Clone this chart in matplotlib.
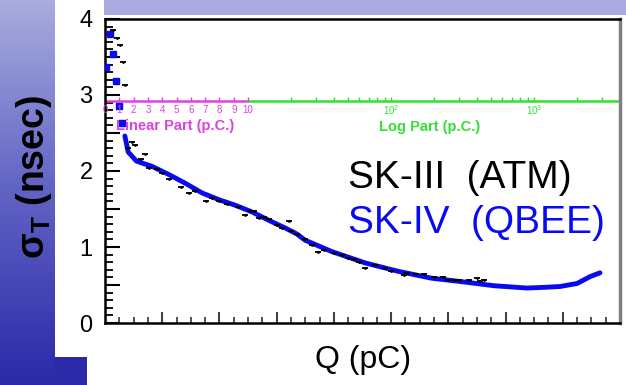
import numpy as np
import matplotlib
matplotlib.use("Agg")
import matplotlib.pyplot as plt
from matplotlib.ticker import MultipleLocator, FuncFormatter, NullFormatter
from matplotlib.patches import Rectangle

plt.rcParams['font.family'] = ['Liberation Sans', 'DejaVu Sans']
plt.rcParams['mathtext.fontset'] = 'custom'
plt.rcParams['mathtext.rm'] = 'Liberation Sans:bold'
plt.rcParams['mathtext.it'] = 'Liberation Sans:bold'
plt.rcParams['mathtext.bf'] = 'Liberation Sans:bold'

# SK-IV (QBEE) - low charge points (pC, nsec)
blue_low_q = [0.35, 0.55, 0.1, 0.75, 0.97, 1.16]
blue_low_s = [3.80, 3.54, 3.37, 3.19, 2.85, 2.63]

# SK-IV (QBEE) - curve
blue_q = [1.39, 1.62, 2.2, 3.3, 4.5, 5.6, 6.8, 8.0, 9.1, 10.7, 14.0, 18.2, 22.0,
          25.0, 38.5, 66, 112, 191, 324, 525, 891, 1200, 1514, 1995, 2455, 2884]
blue_s = [2.46, 2.25, 2.13, 2.06, 1.95, 1.84, 1.71, 1.62, 1.55, 1.46, 1.35, 1.25, 1.17,
          1.09, 0.94, 0.79, 0.68, 0.59, 0.54, 0.49, 0.46, 0.47, 0.48, 0.52, 0.61, 0.66]

# SK-III (ATM)
black_q = [0.55, 0.81, 1.04, 1.25, 1.39, 1.6, 1.9, 2.1, 2.5, 2.8, 3.1, 3.6, 4.0, 4.5, 5.3,
           5.9, 6.3, 7.06, 7.5, 8.0, 8.5, 9.3, 9.8, 10.3, 11, 12.0, 13, 14, 16, 17.4, 19.3,
           20, 22, 25, 28, 30.9, 34, 40, 45, 50, 55, 60, 66, 77.6, 90, 100, 123, 130, 150,
           170, 200, 230, 251, 280, 300, 350, 398, 420, 447]
black_s = [3.86, 3.75, 3.66, 3.44, 3.13, 2.30, 2.38, 2.34, 2.16, 2.23, 2.04, 2.02, 1.98,
           1.90, 1.79, 1.71, 1.74, 1.60, 1.64, 1.60, 1.57, 1.52, 1.42, 1.47, 1.47, 1.38,
           1.39, 1.37, 1.29, 1.25, 1.34, 1.21, 1.17, 1.10, 1.02, 0.94, 0.96, 0.92, 0.90,
           0.86, 0.84, 0.80, 0.72, 0.76, 0.72, 0.69, 0.63, 0.66, 0.64, 0.65, 0.61, 0.60,
           0.57, 0.56, 0.57, 0.56, 0.59, 0.55, 0.57]

# charge scale drawn inside the frame
scale_y = 2.92
lin_ticks = [1, 2, 3, 4, 5, 6, 7, 8, 9, 10]
lin_labels = ['0', '1', '2', '3', '4', '5', '6', '7', '8', '9', '10']
log_ticks = [20, 30, 40, 50, 60, 70, 80, 90, 100, 200, 300, 400, 500, 600, 700, 800, 900,
             1000, 2000, 3000]
log_labels = {100: r'$\mathregular{10^{2}}$', 1000: r'$\mathregular{10^{3}}$'}
q_max = 3980


def fwd(q):
    q = np.asarray(q, dtype=float)
    return np.where(q <= 10, q, 10 + 10 * np.log10(np.maximum(q, 1e-9) / 10))


def inv(u):
    u = np.asarray(u, dtype=float)
    return np.where(u <= 10, u, 10 * 10 ** ((u - 10) / 10))


W, H = 626, 385
fig = plt.figure(figsize=(W / 100, H / 100), dpi=100)
fig.patch.set_facecolor('white')

# slide background
bg = fig.add_axes([0, 0, 1, 1], zorder=-5)
bg.set_xlim(0, W)
bg.set_ylim(H, 0)
bg.axis('off')
grad = np.linspace(0, 1, 200)[:, None]
top_c = np.array([168, 172, 222]) / 255
mid_c = np.array([96, 98, 196]) / 255
bot_c = np.array([42, 42, 168]) / 255
g = grad[:, :, None]
img = np.where(g < 0.5, top_c * (1 - 2 * g) + mid_c * 2 * g,
               mid_c * (2 - 2 * g) + bot_c * (2 * g - 1))
bg.imshow(img, extent=[0, 55, H, 0], aspect='auto')
bg.add_patch(Rectangle((55, 357), 32, 28, color=bot_c, lw=0))
bg.add_patch(Rectangle((104, 0), W - 104, 15, color='#aaaae0', lw=0))

ax = fig.add_axes([105 / W, 62 / H, 515 / W, 304 / H])
ax.set_xscale('function', functions=(fwd, inv))
ax.set_xlim(0, q_max)
ax.set_ylim(0, 4)

ax.plot(blue_q, blue_s, color='#0a0af0', lw=3.5, solid_capstyle='round', zorder=3)
ax.plot(blue_low_q, blue_low_s, ls='none', marker='s', ms=4, color='#0a0af0', zorder=3)
ax.plot(black_q, black_s, ls='none', marker='_', ms=5, mew=1.3, color='black', zorder=4)
ax.plot(black_q, black_s, ls='none', marker='.', ms=2, color='black', zorder=4)

# linear / log charge scale
ax.plot([0, 10], [scale_y, scale_y], color='#e040e0', lw=1.8, zorder=2)
ax.plot([10, q_max], [scale_y, scale_y], color='#33e033', lw=1.8, zorder=2)
ax.plot(lin_ticks, [scale_y] * len(lin_ticks), ls='none', marker=2, ms=3, mew=1,
        color='#e040e0')
ax.plot(log_ticks, [scale_y] * len(log_ticks), ls='none', marker=2, ms=3, mew=1,
        color='#33e033')
for i, lab in enumerate(lin_labels):
    ax.text(i, scale_y - 0.12, lab, color='#e040e0', fontsize=7, ha='center', va='center')
for q, lab in log_labels.items():
    ax.text(q, scale_y - 0.12, lab, color='#33e033', fontsize=7, ha='center', va='center')
ax.text(4.9, 2.59, 'Linear Part (p.C.)', color='#e040e0', fontsize=10.5,
        fontweight='bold', ha='center', va='center')
ax.text(186, 2.58, 'Log Part (p.C.)', color='#33e033', fontsize=10.5,
        fontweight='bold', ha='center', va='center')

# axes styling
ax.yaxis.set_major_locator(MultipleLocator(0.5))
ax.yaxis.set_minor_locator(MultipleLocator(0.1))
ax.yaxis.set_major_formatter(FuncFormatter(
    lambda v, p: f"{v:.0f}" if abs(v - round(v)) < 1e-6 else ""))
ax.set_xticks(inv(np.arange(4, 36, 4)))
ax.set_xticks(inv(np.arange(1, 36)), minor=True)
ax.xaxis.set_major_formatter(NullFormatter())
ax.tick_params(axis='y', which='major', direction='in', length=11, width=1.5,
               labelsize=17, pad=9, right=False)
ax.tick_params(axis='y', which='minor', direction='in', length=6, width=1.3, right=False)
ax.tick_params(axis='x', which='major', direction='in', length=8, width=1.5,
               color='#444444', top=False)
ax.tick_params(axis='x', which='minor', direction='in', length=4, width=1.3,
               color='#444444', top=False)
for s in ['left', 'bottom', 'top']:
    ax.spines[s].set_linewidth(1.8)
ax.spines['right'].set_color('#808080')
ax.spines['right'].set_linewidth(2.5)

fig.text(348 / W, 1 - 178 / H, 'SK-III  (ATM)', fontsize=28, color='black',
         ha='left', va='center')
fig.text(348 / W, 1 - 223 / H, 'SK-IV  (QBEE)', fontsize=28, color='#0a0af0',
         ha='left', va='center')
fig.text(363 / W, 1 - 360 / H, 'Q (pC)', fontsize=23, color='black',
         ha='center', va='center')
fig.text(34 / W, 1 - 177 / H, r'$\mathrm{\sigma_T}$ (nsec)', fontsize=27,
         fontweight='bold', rotation=90, ha='center', va='center')

fig.savefig('out.png', dpi=100)
